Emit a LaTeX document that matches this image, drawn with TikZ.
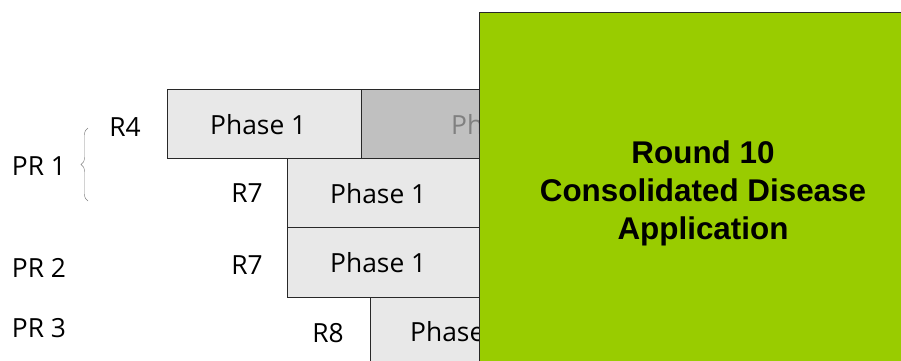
\documentclass[tikz,border=0pt]{standalone}
\usepackage{fontspec}
\setmainfont{Open Sans}
\newfontfamily\roundfont{Liberation Sans}
\usetikzlibrary{decorations.pathreplacing}
\begin{document}
\begin{tikzpicture}[x=0.03cm,y=-0.03cm]
\definecolor{phasecolor}{RGB}{232,232,232}
\definecolor{latecolor}{RGB}{192,192,192}
\definecolor{latetext}{RGB}{128,128,128}
\definecolor{roundcolor}{RGB}{153,204,0}
\definecolor{edgecolor}{RGB}{40,40,40}
\tikzset{
  phasebox/.style={draw=edgecolor,fill=phasecolor,thin},
  latebox/.style={draw=edgecolor,fill=latecolor,thin},
  phasetext/.style={inner sep=0pt,anchor=west,font=\fontsize{22.5}{27}\selectfont},
  rowlabel/.style={inner sep=0pt,font=\fontsize{22.5}{27}\selectfont},
}
\useasboundingbox (0,0) rectangle (901,360);
\clip (0,0) rectangle (901,360);
% R4 row
\draw [phasebox] (167,89) rectangle (361,158);
\node [phasetext] (r4a) at (210,125) {Phase 1};
\draw [latebox] (361,89) rectangle (640,158);
\node [phasetext,text=latetext] (r4b) at (451,125) {Phase 2};
% R7 rows
\draw [phasebox] (287,158) rectangle (600,227);
\node [phasetext] (r7a) at (330,194) {Phase 1};
\draw [phasebox] (287,227) rectangle (600,297);
\node [phasetext] (r7b) at (330,263) {Phase 1};
% R8 row
\draw [phasebox] (370,297) rectangle (600,380);
\node [phasetext] (r8a) at (410,332) {Phase 1};
% round labels
\node [rowlabel] (lr4) at (125,127) {R4};
\node [rowlabel] (lr7a) at (247,193) {R7};
\node [rowlabel] (lr7b) at (247,265) {R7};
\node [rowlabel] (lr8) at (328,333) {R8};
% program labels
\node [rowlabel] (pr1) at (39,166) {PR 1};
\node [rowlabel] (pr2) at (39,268) {PR 2};
\node [rowlabel] (pr3) at (39,328) {PR 3};
\draw [gray,thin,decorate,decoration={brace,amplitude=6}] (88,201) -- (88,128);
% round 10 box
\draw [fill=roundcolor,draw=edgecolor,thin] (479,12) rectangle (910,370);
\node [align=center,inner sep=0pt,font=\roundfont\bfseries\fontsize{26.8}{32.5}\selectfont] (r10) at (703,193)
  {Round 10\\Consolidated Disease\\Application};
\end{tikzpicture}
\end{document}
